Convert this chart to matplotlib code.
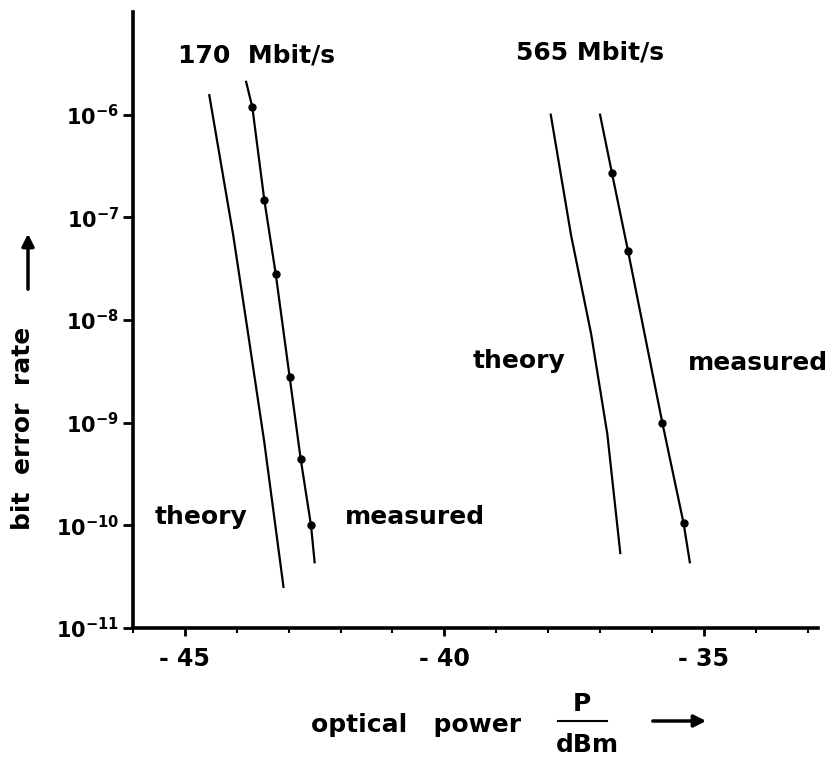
import numpy as np
import matplotlib
matplotlib.use("Agg")
import matplotlib.pyplot as plt

plt.rcParams['font.family'] = ['DejaVu Sans']
plt.rcParams['font.weight'] = 'bold'
plt.rcParams['mathtext.default'] = 'bf'

# 170 Mbit/s
th170_x = [-44.53, -44.07, -43.78, -43.47, -43.10]
th170_y = [10**-5.81, 10**-7.17, 10**-8.14, 10**-9.19, 10**-10.60]
me170_x = [-43.82, -43.70, -43.47, -43.25, -42.98, -42.77, -42.57, -42.50]
me170_y = [10**-5.68, 10**-5.93, 10**-6.83, 10**-7.55, 10**-8.56, 10**-9.35, 10**-10.0, 10**-10.36]
dot170_x = [-43.70, -43.47, -43.25, -42.98, -42.77, -42.57]
dot170_y = [10**-5.93, 10**-6.83, 10**-7.55, 10**-8.56, 10**-9.35, 10**-10.0]

# 565 Mbit/s
th565_x = [-37.95, -37.56, -37.17, -36.86, -36.61]
th565_y = [10**-6.0, 10**-7.17, 10**-8.14, 10**-9.11, 10**-10.27]
me565_x = [-37.00, -36.77, -36.46, -35.80, -35.39, -35.27]
me565_y = [10**-6.0, 10**-6.57, 10**-7.33, 10**-9.00, 10**-9.98, 10**-10.36]
dot565_x = [-36.77, -36.46, -35.80, -35.39]
dot565_y = [10**-6.57, 10**-7.33, 10**-9.00, 10**-9.98]

xticks = [-45, -40, -35]
xlabels = ['- 45', '- 40', '- 35']
yticks = [1e-11, 1e-10, 1e-9, 1e-8, 1e-7, 1e-6]
ylabels = ['10$^{-11}$', '10$^{-10}$', '10$^{-9}$', '10$^{-8}$', '10$^{-7}$', '10$^{-6}$']

W, H = 832, 760
fig = plt.figure(figsize=(W/100, H/100), dpi=100)
ax = fig.add_axes([133/W, 1-628/H, (818-133)/W, (628-12)/H])

lw = 1.6
ax.plot(th170_x, th170_y, color='black', lw=lw)
ax.plot(me170_x, me170_y, color='black', lw=lw)
ax.plot(dot170_x, dot170_y, 'o', color='black', ms=5)
ax.plot(th565_x, th565_y, color='black', lw=lw)
ax.plot(me565_x, me565_y, color='black', lw=lw)
ax.plot(dot565_x, dot565_y, 'o', color='black', ms=5)

ax.set_yscale('log')
ax.set_xlim(-46, -32.8)
ax.set_ylim(1e-11, 1e-5)
ax.set_xticks(xticks)
ax.set_xticklabels(xlabels, fontsize=17, fontweight='bold')
ax.set_xticks(np.arange(-46, -32, 1), minor=True)
ax.set_yticks(yticks)
ax.set_yticklabels(ylabels, fontsize=15, fontweight='bold')
ax.yaxis.set_minor_locator(matplotlib.ticker.NullLocator())
ax.tick_params(axis='x', which='major', direction='out', length=6, width=2, pad=8)
ax.tick_params(axis='x', which='minor', direction='out', length=3.5, width=1.5)
ax.tick_params(axis='y', which='major', direction='out', length=7, width=2, pad=3)

for s in ['top', 'right']:
    ax.spines[s].set_visible(False)
for s in ['left', 'bottom']:
    ax.spines[s].set_linewidth(2.6)

fs = 18
ax.text(-45.14, 10**-5.42, '170  Mbit/s', fontsize=fs, ha='left', va='center')
ax.text(-38.61, 10**-5.39, '565 Mbit/s', fontsize=fs, ha='left', va='center')
ax.text(-39.45, 10**-8.40, 'theory', fontsize=fs, ha='left', va='center')
ax.text(-35.31, 10**-8.42, 'measured', fontsize=fs, ha='left', va='center')
ax.text(-45.58, 10**-9.92, 'theory', fontsize=fs, ha='left', va='center')
ax.text(-41.91, 10**-9.92, 'measured', fontsize=fs, ha='left', va='center')

# y label with arrow
fig.text(23/W, 1-428/H, 'bit  error  rate', rotation=90, fontsize=fs,
         ha='center', va='center')
fig.add_artist(matplotlib.patches.FancyArrowPatch(
    (28/W, 1-292/H), (28/W, 1-231/H), transform=fig.transFigure,
    arrowstyle='-|>', mutation_scale=18, lw=2.5, color='black'))

# x label with fraction and arrow
fig.text(416/W, 1-725/H, 'optical   power', fontsize=fs, ha='center', va='center')
fig.text(582/W, 1-704/H, 'P', fontsize=fs, ha='center', va='center')
fig.text(587/W, 1-745/H, 'dBm', fontsize=fs, ha='center', va='center')
fig.add_artist(matplotlib.lines.Line2D([558/W, 607/W], [1-721/H, 1-721/H],
                                       transform=fig.transFigure, color='black', lw=1.5))
fig.add_artist(matplotlib.patches.FancyArrowPatch(
    (650/W, 1-721/H), (709/W, 1-721/H), transform=fig.transFigure,
    arrowstyle='-|>', mutation_scale=18, lw=2.5, color='black'))

fig.savefig('out.png', dpi=100)
